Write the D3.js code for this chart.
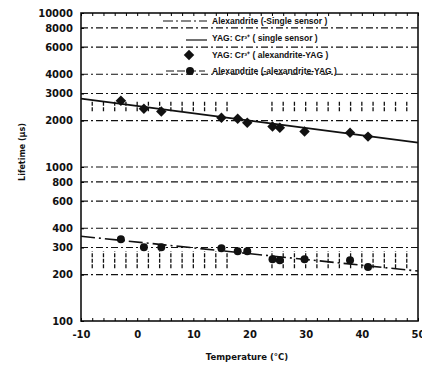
<!DOCTYPE html>
<html>
<head>
<meta charset="utf-8">
<script src="https://cdn.jsdelivr.net/npm/d3@7"></script>
<style>
  body { margin: 0; background: #fff; }
  text { font-family: "DejaVu Sans", sans-serif; font-weight: bold; fill: #111; }
</style>
</head>
<body>
<div id="chart"></div>
<script>
// temperatures (°C) of the measurements, same for both crystals
const temps = [-2.9, 1.2, 4.3, 15, 17.9, 19.6, 24.1, 25.4, 29.8, 37.9, 41.1];
// YAG:Cr3+ lifetimes (µs), diamonds
const yagLife = [2690, 2390, 2290, 2090, 2060, 1940, 1830, 1800, 1700, 1670, 1575];
// Alexandrite lifetimes (µs), circles
const alexLife = [340, 301, 301, 297, 284, 284, 252, 248, 252, 248, 224];
// single-sensor calibration curves
const yagFit = [[-10, 2780], [50, 1440]];
const alexFit = [[-10, 355], [50, 211]];
// hatched uncertainty bands
const hatchTemps = [-8, -6, -4, -2, 0, 2, 4, 6, 8, 10, 12, 14, 16, 24, 26, 28, 30, 32, 34, 36, 38, 40, 42, 44, 46, 48];
const bandYag = [2300, 2650];
const bandAlex = [220, 284];

const xTicks = [-10, 0, 10, 20, 30, 40, 50];
const xMinor = [-10, -8, -6, -4, -2, 0, 2, 4, 6, 8, 10, 12, 14, 16, 18, 20, 22, 24, 26, 28, 30, 32, 34, 36, 38, 40, 42, 44, 46, 48, 50];
const yTicks = [100, 200, 300, 400, 600, 800, 1000, 2000, 3000, 4000, 6000, 8000, 10000];
const yGrid = [200, 300, 400, 600, 800, 1000, 2000, 3000, 4000, 6000, 8000];

const legendItems = [
  { name: "Alexandrite (-Single sensor )", kind: "dashdot" },
  { name: "YAG: Cr³⁺ ( single sensor )", kind: "solid" },
  { name: "YAG: Cr³⁺ ( alexandrite-YAG )", kind: "diamond" },
  { name: "Alexandrite (-alexandrite-YAG )", kind: "circle" }
];

const width = 422, height = 368;
const svg = d3.select("#chart").append("svg").attr("width", width).attr("height", height);

const x = d3.scaleLinear().domain([-10, 50]).range([81, 418]);
const y = d3.scaleLog().domain([100, 10000]).range([321, 13]);

// Gridlines
svg.append("g").selectAll("line").data(yGrid).enter().append("line")
  .attr("x1", x(-10)).attr("x2", x(50))
  .attr("y1", d => y(d)).attr("y2", d => y(d))
  .attr("stroke", "#111").attr("stroke-width", 1.1)
  .attr("stroke-dasharray", "7,3,2,3");

// Hatching
[bandYag, bandAlex].forEach(band => {
  svg.append("g").selectAll("line").data(hatchTemps).enter().append("line")
    .attr("x1", d => x(d)).attr("x2", d => x(d))
    .attr("y1", y(band[0])).attr("y2", y(band[1]))
    .attr("stroke", "#111").attr("stroke-width", 1.3)
    .attr("stroke-dasharray", "4,1.5");
});

// Frame
svg.append("rect").attr("x", x(-10)).attr("y", y(10000))
  .attr("width", x(50) - x(-10)).attr("height", y(100) - y(10000))
  .attr("fill", "none").attr("stroke", "#111").attr("stroke-width", 1.6);

// Minor ticks top and bottom
svg.append("g").attr("transform", `translate(0,${y(100)})`)
  .call(d3.axisBottom(x).tickValues(xMinor).tickSizeInner(-3).tickSizeOuter(0).tickFormat(""))
  .call(g => g.select(".domain").remove());
svg.append("g").attr("transform", `translate(0,${y(10000)})`)
  .call(d3.axisTop(x).tickValues(xMinor).tickSizeInner(-3).tickSizeOuter(0).tickFormat(""))
  .call(g => g.select(".domain").remove());

// Axes labels
svg.append("g").attr("transform", `translate(0,${y(100)})`)
  .call(d3.axisBottom(x).tickValues(xTicks).tickSize(0).tickPadding(10).tickFormat(d => String(d)))
  .call(g => g.select(".domain").remove())
  .selectAll("text").style("font-size", "10px").style("font-family", "DejaVu Sans").style("font-weight", "bold");
svg.append("g").attr("transform", `translate(${x(-10)},0)`)
  .call(d3.axisLeft(y).tickValues(yTicks).tickSize(-3).tickPadding(8).tickFormat(d => String(d)))
  .call(g => g.select(".domain").remove())
  .selectAll("text").style("font-size", "10px").style("font-family", "DejaVu Sans").style("font-weight", "bold");

// Fit lines
const line = d3.line().x(d => x(d[0])).y(d => y(d[1]));
svg.append("path").datum(yagFit).attr("d", line)
  .attr("fill", "none").attr("stroke", "#111").attr("stroke-width", 1.8);
svg.append("path").datum(alexFit).attr("d", line)
  .attr("fill", "none").attr("stroke", "#111").attr("stroke-width", 1.6)
  .attr("stroke-dasharray", "14,4,2,4");

// Markers
const diamond = d3.symbol().type(d3.symbolDiamond2).size(70);
svg.append("g").selectAll("path").data(temps).enter().append("path")
  .attr("d", diamond)
  .attr("transform", (d, i) => `translate(${x(d)},${y(yagLife[i])})`)
  .attr("fill", "#111");
svg.append("g").selectAll("circle").data(temps).enter().append("circle")
  .attr("cx", d => x(d)).attr("cy", (d, i) => y(alexLife[i])).attr("r", 4)
  .attr("fill", "#111");

// Legend
const legendY = [21, 38, 55, 71];
const legend = svg.append("g");
legendItems.forEach((item, i) => {
  const row = legend.append("g").attr("transform", `translate(0,${legendY[i]})`);
  if (item.kind === "dashdot") {
    row.append("line").attr("x1", 163).attr("x2", 207).attr("y1", 0).attr("y2", 0)
      .attr("stroke", "#111").attr("stroke-width", 1.2).attr("stroke-dasharray", "10,3,2,3");
  } else if (item.kind === "solid") {
    row.append("line").attr("x1", 186).attr("x2", 207).attr("y1", 2).attr("y2", 2)
      .attr("stroke", "#111").attr("stroke-width", 1.2);
  } else if (item.kind === "diamond") {
    row.append("path").attr("d", diamond).attr("transform", "translate(189,0)").attr("fill", "#111");
  } else {
    row.append("line").attr("x1", 166).attr("x2", 205).attr("y1", 0).attr("y2", 0)
      .attr("stroke", "#111").attr("stroke-width", 1.2).attr("stroke-dasharray", "8,3");
    row.append("circle").attr("cx", 190).attr("cy", 0).attr("r", 4).attr("fill", "#111");
  }
  row.append("text").attr("x", 212).attr("y", 0).attr("dy", "0.35em")
    .style("font-size", "8.5px").style("font-family", "Liberation Sans, Arial, sans-serif")
    .text(item.name);
});

// Axis titles
svg.append("text").attr("x", 247).attr("y", 357).attr("dy", "0.35em")
  .attr("text-anchor", "middle").style("font-size", "8.5px")
  .text("Temperature (°C)");
svg.append("text").attr("transform", "translate(22,152) rotate(-90)")
  .attr("text-anchor", "middle").attr("dy", "0.35em").style("font-size", "8px")
  .text("Lifetime (µs)");
</script>
</body>
</html>
